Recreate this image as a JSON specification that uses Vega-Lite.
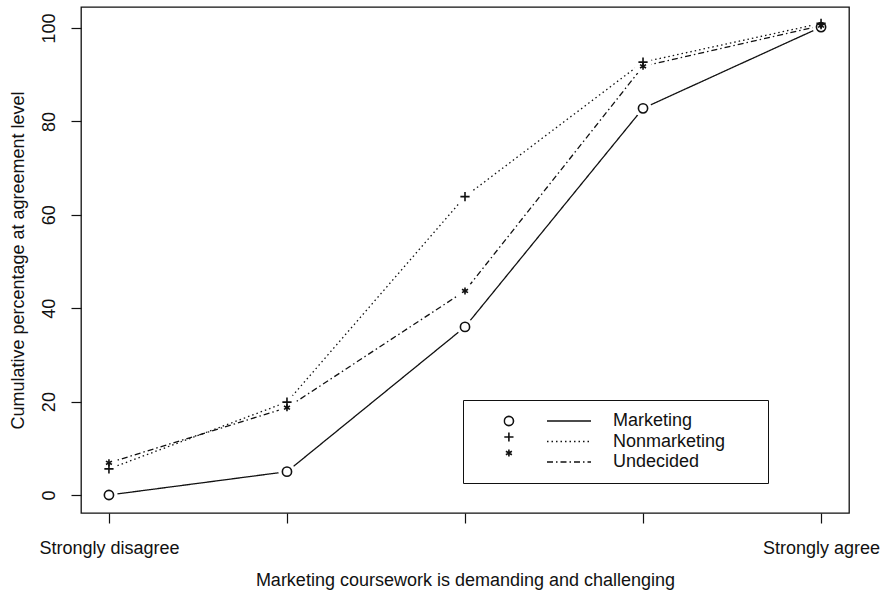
{
  "$schema": "https://vega.github.io/schema/vega-lite/v6.json",
  "width": 768,
  "height": 506,
  "autosize": {"type": "none"},
  "padding": {"left": 81, "top": 7, "right": 35, "bottom": 79},
  "background": "white",
  "config": {
    "font": "Liberation Sans",
    "view": {"stroke": "#111", "strokeWidth": 1.3},
    "axis": {
      "grid": false,
      "domain": false,
      "tickColor": "#111",
      "tickWidth": 1.2,
      "tickSize": 10,
      "labelFont": "Liberation Sans",
      "labelFontSize": 18,
      "labelColor": "#111",
      "titleFont": "Liberation Sans",
      "titleFontSize": 18,
      "titleFontWeight": "normal",
      "titleColor": "#111"
    },
    "legend": {
      "labelFont": "Liberation Sans",
      "labelFontSize": 18,
      "labelColor": "#111",
      "titleFont": "Liberation Sans",
      "titleFontSize": 18,
      "titleFontWeight": "normal"
    }
  },
  "data": {
    "values": [
      {"level": 1, "group": "Marketing", "pct": 0},
      {"level": 2, "group": "Marketing", "pct": 5},
      {"level": 3, "group": "Marketing", "pct": 36},
      {"level": 4, "group": "Marketing", "pct": 82.8},
      {"level": 5, "group": "Marketing", "pct": 100.2},
      {"level": 1, "group": "Nonmarketing", "pct": 5.6},
      {"level": 2, "group": "Nonmarketing", "pct": 19.9},
      {"level": 3, "group": "Nonmarketing", "pct": 63.9},
      {"level": 4, "group": "Nonmarketing", "pct": 92.7},
      {"level": 5, "group": "Nonmarketing", "pct": 101},
      {"level": 1, "group": "Undecided", "pct": 6.9},
      {"level": 2, "group": "Undecided", "pct": 18.7},
      {"level": 3, "group": "Undecided", "pct": 43.7},
      {"level": 4, "group": "Undecided", "pct": 91.8},
      {"level": 5, "group": "Undecided", "pct": 100.5}
    ]
  },
  "encoding": {
    "x": {
      "field": "level",
      "type": "quantitative",
      "scale": {"domain": [0.843, 5.157], "nice": false, "zero": false},
      "axis": {
        "title": "Marketing coursework is demanding and challenging",
        "values": [1, 2, 3, 4, 5],
        "labelExpr": "datum.value == 1 ? 'Strongly disagree' : (datum.value == 5 ? 'Strongly agree' : '')",
        "labelOverlap": false,
        "labelFlush": false,
        "labelPadding": 16,
        "titleX": 384,
        "titleY": 67,
        "titleBaseline": "middle",
        "titleAlign": "center"
      }
    },
    "y": {
      "field": "pct",
      "type": "quantitative",
      "scale": {"domain": [-3.85, 104.5], "nice": false, "zero": false},
      "axis": {
        "title": "Cumulative percentage at agreement level",
        "values": [0, 20, 40, 60, 80, 100],
        "labelAngle": 270,
        "labelPadding": 13,
        "titleAngle": 270,
        "titleX": -63,
        "titleY": 253,
        "titleBaseline": "middle",
        "titleAlign": "center"
      }
    }
  },
  "layer": [
    {
      "mark": {"type": "line", "color": "#111", "strokeWidth": 1.3},
      "encoding": {
        "strokeDash": {
          "field": "group",
          "type": "nominal",
          "scale": {"range": [[1, 0], [1.5, 3], [6, 3, 1.5, 3]]},
          "legend": {
            "orient": "none",
            "legendX": 382,
            "legendY": 393,
            "direction": "vertical",
            "symbolType": "M-4.4,0L4.4,0M36.8,0L36.8,0",
            "symbolSize": 100,
            "symbolOffset": 85,
            "symbolStrokeWidth": 1.3,
            "symbolStrokeColor": "#111",
            "labelOffset": 35,
            "title": null,
            "padding": 12,
            "strokeColor": "#111",
            "rowPadding": 2.5
          }
        }
      }
    },
    {
      "mark": {"type": "point", "filled": true, "color": "white", "opacity": 1, "size": 300, "shape": "circle"},
      "encoding": {}
    },
    {
      "mark": {"type": "point", "filled": false, "color": "#111", "opacity": 1, "strokeWidth": 1.6, "size": 85},
      "encoding": {
        "shape": {
          "field": "group",
          "type": "nominal",
          "scale": {
            "domain": ["Marketing", "Nonmarketing", "Undecided"],
            "range": ["circle", "M-1,0L1,0M0,-1L0,1", "M0,-0.75L0,0.75M-0.65,-0.375L0.65,0.375M-0.65,0.375L0.65,-0.375"]
          },
          "legend": {
            "orient": "none",
            "legendX": 422.4,
            "legendY": 406,
            "direction": "vertical",
            "title": null,
            "labelExpr": "''",
            "labelFontSize": 8,
            "symbolSize": 85,
            "symbolStrokeWidth": 1.6,
            "symbolStrokeColor": "#111",
            "padding": 0,
            "clipHeight": 16,
            "rowPadding": 0
          }
        }
      }
    }
  ]
}
